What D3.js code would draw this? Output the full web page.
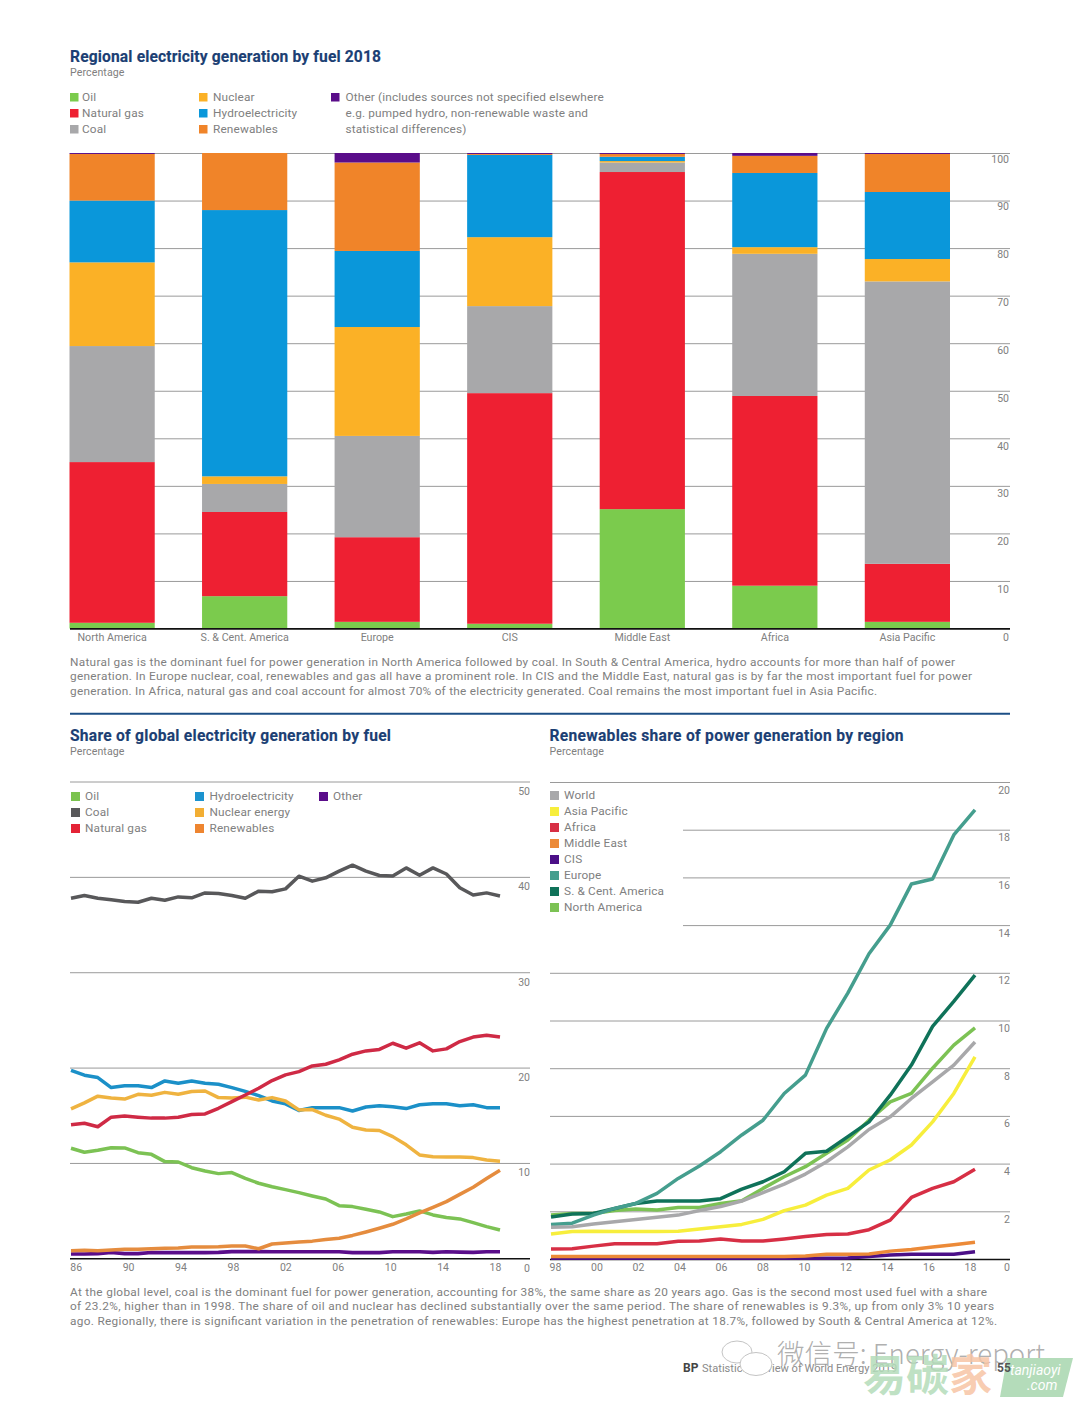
<!DOCTYPE html>
<html><head><meta charset="utf-8">
<script src="https://cdnjs.cloudflare.com/ajax/libs/d3/7.8.5/d3.min.js"></script>
<style>
html,body{margin:0;padding:0;background:#fff}
svg{display:block}
text{font-family:Roboto,"Liberation Sans",sans-serif}
.body{fill:#808080;font-size:11.8px;font-weight:400}
.legend{fill:#808080;font-size:11.8px;font-weight:400;letter-spacing:.15px}
.tick-label{fill:#808080;font-size:10.5px}
.cat-label{fill:#808080;font-size:10.7px}
.title{fill:#1c3f74;font-size:15.6px;font-weight:700;stroke:#1c3f74;stroke-width:.15}
.sub{fill:#808080;font-size:10.6px;letter-spacing:.1px}
</style></head><body>
<svg id="c" width="1080" height="1407"></svg>
<script>
// ---- bar chart data ----
const regions = ["North America","S. & Cent. America","Europe","CIS","Middle East","Africa","Asia Pacific"];
const fuels = ["Oil","Natural gas","Coal","Nuclear","Hydroelectricity","Renewables","Other"];
const barOil   = [1.2, 6.8, 1.4, 1.0, 25.1, 9.0, 1.4];
const barGas   = [33.8, 17.7, 17.8, 48.5, 70.9, 39.9, 12.2];
const barCoal  = [24.4, 5.9, 21.3, 18.3, 2.0, 29.9, 59.4];
const barNuc   = [17.6, 1.6, 22.9, 14.5, 0.3, 1.4, 4.7];
const barHydro = [13.0, 56.0, 16.0, 17.3, 0.9, 15.6, 14.1];
const barRen   = [9.8, 12.0, 18.6, 0.2, 0.6, 3.6, 8.0];
const barOther = [0.2, 0.0, 2.0, 0.2, 0.2, 0.6, 0.2];
const barTicks = [0,10,20,30,40,50,60,70,80,90,100];
const fuelColors = ["#7bcb4d","#ee2032","#a8a8aa","#fbb126","#0a97da","#f08429","#5a0d8a"];

// ---- share of global generation by fuel, 1986-2018 ----
const yearsA = d3.range(1986,2019);
const shareOil   = [11.54,11.12,11.33,11.6,11.57,11.08,10.9,10.14,10.1,9.5,9.16,8.88,8.99,8.39,7.87,7.5,7.2,6.89,6.54,6.22,5.52,5.42,5.14,4.86,4.37,4.65,4.97,4.55,4.27,4.13,3.74,3.32,2.97];
const shareCoal  = [37.76,38.04,37.76,37.59,37.41,37.34,37.76,37.55,37.9,37.8,38.32,38.25,38.04,37.76,38.5,38.43,38.74,40.07,39.55,39.9,40.6,41.22,40.6,40.14,40.1,40.94,40.17,40.94,40.3,38.85,38.1,38.32,38.0];
const shareGas   = [14.0,14.16,13.8,14.8,14.93,14.8,14.7,14.7,14.8,15.07,15.14,15.73,16.43,17.13,17.83,18.64,19.23,19.58,20.17,20.35,20.8,21.4,21.75,21.9,22.55,22.03,22.6,21.75,21.96,22.73,23.2,23.4,23.2];
const shareHydro = [19.7,19.2,18.95,17.9,18.1,18.1,17.9,18.6,18.36,18.6,18.36,18.25,17.9,17.5,17.06,16.5,16.2,15.5,15.8,15.8,15.8,15.45,15.87,16.0,15.9,15.7,16.1,16.2,16.2,16.0,16.1,15.8,15.8];
const shareNuc   = [15.66,16.3,17.0,16.8,16.7,17.2,17.1,17.4,17.2,17.5,17.55,16.85,16.8,16.9,16.6,16.85,16.5,15.56,15.6,15.0,14.6,13.74,13.46,13.4,12.76,11.9,10.84,10.66,10.63,10.63,10.56,10.3,10.17];
const shareRen   = [0.8,0.84,0.8,0.87,0.94,0.94,1.0,1.05,1.08,1.19,1.19,1.22,1.29,1.29,1.0,1.5,1.6,1.7,1.8,1.96,2.1,2.4,2.76,3.15,3.57,4.13,4.76,5.35,5.94,6.7,7.45,8.36,9.23];
const shareOther = [0.45,0.45,0.49,0.6,0.49,0.49,0.6,0.6,0.6,0.6,0.6,0.62,0.7,0.7,0.7,0.68,0.68,0.68,0.68,0.68,0.68,0.6,0.6,0.6,0.68,0.68,0.68,0.62,0.68,0.65,0.62,0.68,0.68];
const shareLegend = [["Oil","#7bc34f",0,0],["Coal","#58585a",0,1],["Natural gas","#e42336",0,2],["Hydroelectricity","#1b93cf",1,0],["Nuclear energy","#f2ae33",1,1],["Renewables","#ee8530",1,2],["Other","#5a0d8a",2,0]];
const shareTicks = [0,10,20,30,40,50];
const shareYearLabels = ["86","90","94","98","02","06","10","14","18"];

// ---- renewables share by region, 1998-2018 ----
const yearsB = d3.range(1998,2019);
const renWorld  = [1.33,1.35,1.47,1.56,1.66,1.75,1.84,2.03,2.2,2.43,2.78,3.14,3.56,4.08,4.7,5.43,5.96,6.73,7.43,8.13,9.1];
const renAsia   = [1.05,1.15,1.16,1.15,1.15,1.15,1.16,1.26,1.35,1.45,1.66,2.03,2.26,2.68,2.96,3.73,4.15,4.78,5.75,6.94,8.48];
const renAfrica = [0.42,0.43,0.54,0.64,0.64,0.64,0.74,0.75,0.84,0.75,0.75,0.84,0.94,1.03,1.05,1.23,1.63,2.58,2.96,3.24,3.76];
const renME     = [0.1,0.1,0.1,0.1,0.1,0.1,0.1,0.1,0.1,0.1,0.1,0.1,0.13,0.2,0.2,0.21,0.33,0.4,0.5,0.6,0.7];
const renCIS    = [0.03,0.03,0.03,0.03,0.03,0.03,0.03,0.03,0.03,0.03,0.03,0.03,0.03,0.03,0.04,0.1,0.17,0.2,0.2,0.2,0.3];
const renEurope = [1.45,1.5,1.84,2.12,2.33,2.75,3.38,3.9,4.5,5.2,5.82,6.94,7.71,9.67,11.15,12.8,14.0,15.72,15.93,17.78,18.83];
const renSCA    = [1.76,1.89,1.91,2.12,2.33,2.43,2.43,2.43,2.53,2.93,3.24,3.66,4.43,4.52,5.13,5.75,6.87,8.13,9.75,10.8,11.9];
const renNA     = [1.84,1.91,1.91,2.03,2.1,2.05,2.16,2.16,2.33,2.44,2.96,3.45,3.87,4.43,4.99,5.82,6.59,6.94,8.0,8.97,9.69];
const renLegend = [["World","#a8a8aa"],["Asia Pacific","#f7ee3c"],["Africa","#d72f45"],["Middle East","#ec8a38"],["CIS","#4b0f87"],["Europe","#459e8e"],["S. & Cent. America","#0f7259"],["North America","#7cc254"]];
const renTicks = [0,2,4,6,8,10,12,14,16,18,20];
const renYearLabels = ["98","00","02","04","06","08","10","12","14","16","18"];

// ---- text ----
const para1 = ["Natural gas is the dominant fuel for power generation in North America followed by coal. In South & Central America, hydro accounts for more than half of power",
"generation. In Europe nuclear, coal, renewables and gas all have a prominent role. In CIS and the Middle East, natural gas is by far the most important fuel for power",
"generation. In Africa, natural gas and coal account for almost 70% of the electricity generated. Coal remains the most important fuel in Asia Pacific."];
const para2 = ["At the global level, coal is the dominant fuel for power generation, accounting for 38%, the same share as 20 years ago. Gas is the second most used fuel with a share",
"of 23.2%, higher than in 1998. The share of oil and nuclear has declined substantially over the same period. The share of renewables is 9.3%, up from only 3% 10 years",
"ago. Regionally, there is significant variation in the penetration of renewables: Europe has the highest penetration at 18.7%, followed by South & Central America at 12%."];
const otherNote = ["Other (includes sources not specified elsewhere","e.g. pumped hydro, non-renewable waste and","statistical differences)"];

const svg = d3.select("#c");
const GRID = "#9a9a9a";

function heading(x,y,t,len){
  svg.append("text").attr("class","title").attr("x",x).attr("y",y).attr("textLength",len).text(t);
  svg.append("text").attr("class","sub").attr("x",x).attr("y",y+14).text("Percentage");
}
function paragraph(lines,x,y,widths){
  svg.selectAll(null).data(lines).enter().append("text").attr("class","body")
    .attr("x",x).attr("y",(d,i)=>y+i*14.6).attr("textLength",(d,i)=>widths[i]).text(d=>d);
}
function valueAxis(yScale,x0,x1,ticks,lblX,lblY){
  const g = svg.append("g").attr("transform",`translate(${x0},0)`)
    .call(d3.axisRight(yScale).tickValues(ticks).tickSize(x1-x0).tickSizeOuter(0));
  g.select(".domain").remove();
  g.selectAll(".tick line").attr("stroke",d=>d===0?"#111":GRID).attr("stroke-width",d=>d===0?1.6:1);
  g.selectAll(".tick text").attr("class","tick-label").attr("text-anchor","end")
    .attr("x",lblX-x0).attr("dy",lblY).attr("fill",null);
  return g;
}

// ================ Bar chart ================
heading(70,62,"Regional electricity generation by fuel 2018",311);
const legCols = [[70,82],[199,213]];
fuels.slice(0,6).forEach((f,i)=>{
  const c = legCols[Math.floor(i/3)], y = 97+(i%3)*16;
  svg.append("rect").attr("x",c[0]).attr("y",y-4).attr("width",8.5).attr("height",8.5).attr("fill",fuelColors[i]);
  svg.append("text").attr("class","legend").attr("x",c[1]).attr("y",y+4).text(f);
});
svg.append("rect").attr("x",331).attr("y",93).attr("width",8.5).attr("height",8.5).attr("fill",fuelColors[6]);
svg.selectAll(null).data(otherNote).enter().append("text").attr("class","legend")
  .attr("x",345.5).attr("y",(d,i)=>101+i*16).text(d=>d);

const yBar = d3.scaleLinear().domain([0,100]).range([628.5,153]);
const xBar = d3.scaleBand().domain(regions).range([69.5,950]).paddingInner(0.357).paddingOuter(0);
const barRows = regions.map((r,i)=>({region:r,"Oil":barOil[i],"Natural gas":barGas[i],"Coal":barCoal[i],"Nuclear":barNuc[i],"Hydroelectricity":barHydro[i],"Renewables":barRen[i],"Other":barOther[i]}));
const stacked = d3.stack().keys(fuels)(barRows);
valueAxis(yBar,70,1010,barTicks,1009,d=>12-3*d/100);
svg.selectAll(null).data(stacked).enter().append("g").attr("fill",(d,i)=>fuelColors[i])
  .selectAll("rect").data(d=>d).enter().append("rect")
  .attr("x",d=>xBar(d.data.region)).attr("width",xBar.bandwidth())
  .attr("y",d=>yBar(d[1])).attr("height",d=>yBar(d[0])-yBar(d[1]));
const gBase = svg.append("g").attr("transform","translate(0,628.5)").call(d3.axisBottom(xBar).tickSize(0).tickPadding(5));
gBase.select(".domain").attr("stroke","#111").attr("stroke-width",1.2).attr("d","M70,0H1010");
gBase.selectAll("text").attr("class","cat-label").attr("fill",null);
paragraph(para1,70,665.5,[885,902,807]);
svg.append("line").attr("x1",70).attr("x2",1010).attr("y1",713.7).attr("y2",713.7).attr("stroke","#1c4f86").attr("stroke-width",2);

// ================ Share of generation ================
heading(70,741,"Share of global electricity generation by fuel",321);
const yA = d3.scaleLinear().domain([0,50]).range([1258.3,781.5]);
const xA = d3.scaleLinear().domain([1986,2018]).range([71,500]);
const gA = valueAxis(yA,70,530,shareTicks,530,13);
const lineA = d3.line().x((d,i)=>xA(yearsA[i])).y(d=>yA(d));
[[shareOther,"#5a0d8a",3.6],[shareOil,"#7cc254",3.5],[shareHydro,"#1b90c8",3.5],[shareNuc,"#efb340",3.5],[shareGas,"#cf2a45",3.5],[shareRen,"#e58c3e",3.5],[shareCoal,"#58585a",3.5]].forEach(s=>{
  svg.append("path").datum(s[0]).attr("d",lineA).attr("fill","none").attr("stroke",s[1]).attr("stroke-width",s[2]).attr("stroke-linejoin","round");
});
const colA=[[71,85],[195,209.5],[319,333]];
shareLegend.forEach(d=>{
  const c=colA[d[2]], y=796+d[3]*16;
  svg.append("rect").attr("x",c[0]).attr("y",y-4).attr("width",9).attr("height",9).attr("fill",d[1]);
  svg.append("text").attr("class","legend").attr("x",c[1]).attr("y",y+4).text(d[0]);
});
const xALabels = d3.scalePoint().domain(shareYearLabels).range([75.7,495]);
const axA = svg.append("g").attr("transform","translate(0,1258.3)").call(d3.axisBottom(xALabels).tickSize(0).tickPadding(5));
axA.select(".domain").remove();
axA.selectAll("text").attr("class","tick-label").attr("fill",null);

// ================ Renewables by region ================
heading(549.5,741,"Renewables share of power generation by region",354);
const yB = d3.scaleLinear().domain([0,20]).range([1259,782]);
const xB = d3.scaleLinear().domain([1998,2018]).range([551,975]);
const gB = valueAxis(yB,550,1010,renTicks,1010,11);
gB.selectAll(".tick line").filter(d=>d>=14&&d<=18).attr("x1",133).attr("x2",460);
const lineB = d3.line().x((d,i)=>xB(yearsB[i])).y(d=>yB(d));
const renSeries=[renWorld,renAsia,renAfrica,renME,renCIS,renEurope,renSCA,renNA];
d3.range(7,-1,-1).forEach(i=>{
  svg.append("path").datum(renSeries[i]).attr("d",lineB).attr("fill","none").attr("stroke",renLegend[i][1]).attr("stroke-width",3.5).attr("stroke-linejoin","round");
});
renLegend.forEach((d,i)=>{
  const y=795+i*16;
  svg.append("rect").attr("x",550).attr("y",y-4).attr("width",9).attr("height",9).attr("fill",d[1]);
  svg.append("text").attr("class","legend").attr("x",564).attr("y",y+4).text(d[0]);
});
const xBLabels = d3.scalePoint().domain(renYearLabels).range([555,970]);
const axB = svg.append("g").attr("transform","translate(0,1259)").call(d3.axisBottom(xBLabels).tickSize(0).tickPadding(5));
axB.select(".domain").remove();
axB.selectAll("text").attr("class","tick-label").attr("fill",null);

paragraph(para2,70,1295.5,[917,924,927]);

// ================ Footer & overlay marks ================
svg.append("text").attr("x",683).attr("y",1372).attr("fill","#444").style("font-size","12px").style("font-weight",700).text("BP");
svg.append("text").attr("x",702).attr("y",1372).attr("fill","#8a8a8a").style("font-size","11.1px").text("Statistical Review of World Energy 2019");
const bub = svg.append("g").attr("fill","#fff").attr("stroke","#c4c4c4").attr("stroke-width",1);
bub.append("ellipse").attr("cx",737).attr("cy",1352).attr("rx",15).attr("ry",11);
bub.append("ellipse").attr("cx",756).attr("cy",1364).attr("rx",16).attr("ry",11.5);
svg.append("text").attr("x",777).attr("y",1364).attr("fill","#9a9a9a").attr("fill-opacity",.8)
  .style("font-family",'"Noto Sans CJK SC"').style("font-size","27.6px").style("font-weight",300).text("微信号: Energy-report");
svg.append("path").attr("d","M1007,1358H1073L1063,1397H1000Z").attr("fill","#b4dcba");
svg.append("text").attr("x",1010).attr("y",1375).attr("fill","#fff").style("font-size","14px").style("font-style","italic").text("tanjiaoyi");
svg.append("text").attr("x",1027).attr("y",1390).attr("fill","#fff").style("font-size","14px").style("font-style","italic").text(".com");
const brand = svg.append("text").attr("x",863).attr("y",1391).attr("fill-opacity",.85).style("font-family",'"Noto Sans CJK SC"').style("font-size","43px").style("font-weight",700);
brand.append("tspan").attr("fill","#b4dcba").text("易碳");
brand.append("tspan").attr("fill","#f7c4a4").text("家");
svg.append("text").attr("x",997).attr("y",1372).attr("fill","#555").style("font-size","12px").style("font-weight",700).text("55");
</script>
</body></html>
